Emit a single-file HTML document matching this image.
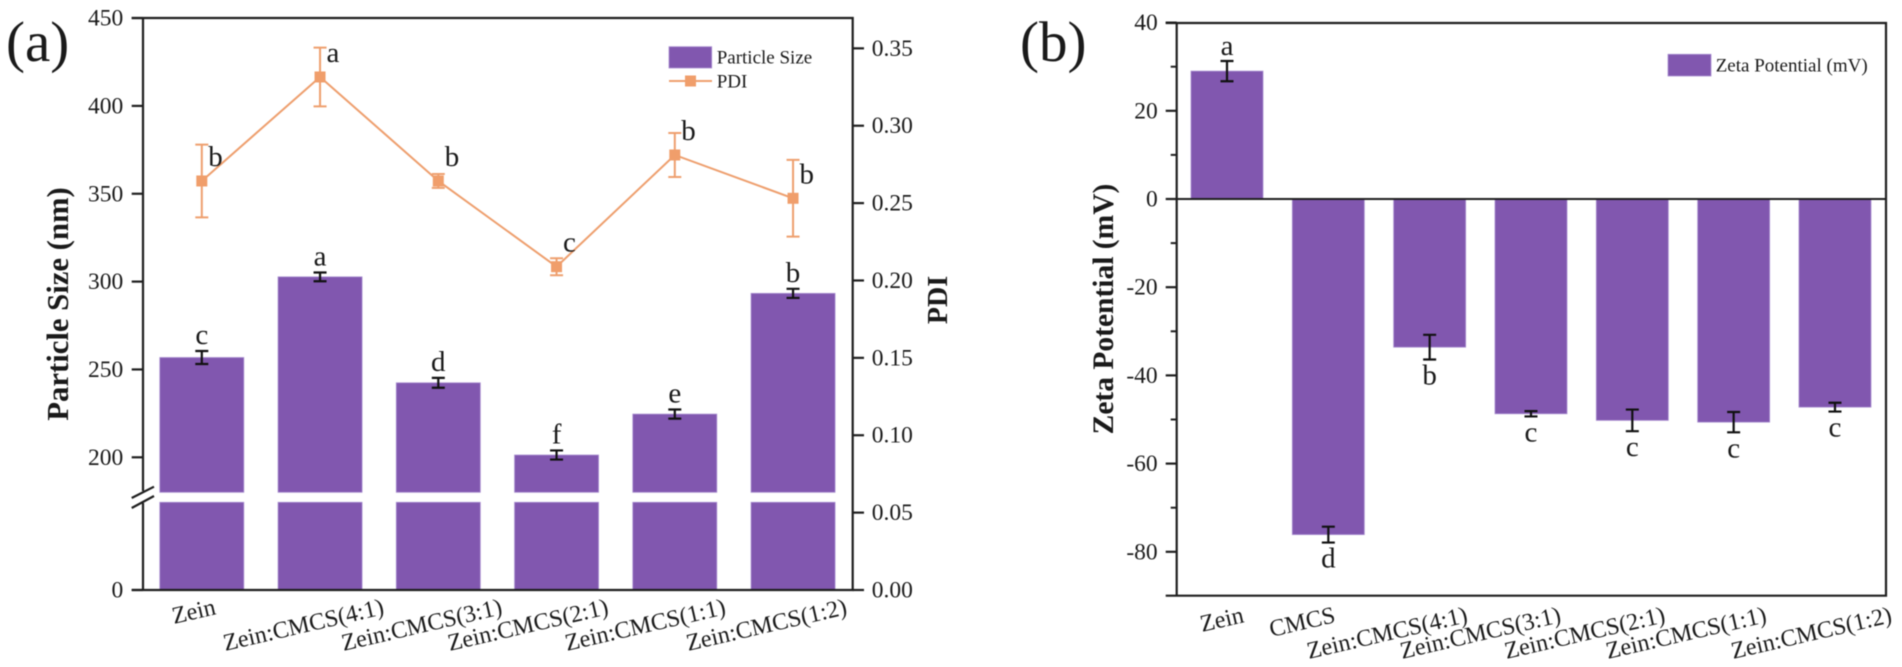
<!DOCTYPE html>
<html lang="en">
<head>
<meta charset="utf-8">
<title>Particle size, PDI and zeta potential</title>
<style>
html,body{margin:0;padding:0;background:#fff;width:1902px;height:667px;overflow:hidden}
svg{display:block;filter:blur(0.4px)}
text{font-family:"Liberation Serif","Times New Roman",serif;fill:#1a1a1a}
</style>
</head>
<body>
<svg id="figure" xmlns="http://www.w3.org/2000/svg" width="1902" height="667" viewBox="0 0 1902 667">
  <rect x="0" y="0" width="1902" height="667" fill="#ffffff"/>
  <text x="6" y="61" font-size="57">(a)</text>
  <text x="1020" y="61" font-size="57">(b)</text>
  <g id="chartA"></g>
  <g id="chartB"></g>
  <text transform="translate(68,304) rotate(-90)" text-anchor="middle" font-size="30.7" font-weight="bold">Particle Size (nm)</text>
  <text transform="translate(947,300) rotate(-90)" text-anchor="middle" font-size="28" font-weight="bold">PDI</text>
  <text transform="translate(1113,309) rotate(-90)" text-anchor="middle" font-size="29.5" font-weight="bold">Zeta Potential (mV)</text>
  <g>
    <rect x="669" y="46.7" width="42.7" height="21.3" fill="#8157AF" stroke="#a98fd0" stroke-width="0.8"/>
    <text x="716.7" y="63.3" font-size="19">Particle Size</text>
    <line x1="669" y1="81" x2="712" y2="81" stroke="#EE9F6E" stroke-width="2"/>
    <rect x="685" y="75.5" width="11" height="11" fill="#F09E6B"/>
    <text x="716.7" y="87.3" font-size="19">PDI</text>
  </g>
  <g>
    <rect x="1668" y="54.3" width="43" height="21.7" fill="#8157AF" stroke="#a98fd0" stroke-width="0.8"/>
    <text x="1715.7" y="71.7" font-size="19">Zeta Potential (mV)</text>
  </g>
</svg>
<script>
// ---- Panel (a) data ----
const categoriesA = ["Zein", "Zein:CMCS(4:1)", "Zein:CMCS(3:1)", "Zein:CMCS(2:1)", "Zein:CMCS(1:1)", "Zein:CMCS(1:2)"];
const particleSize = [256.8, 302.7, 242.4, 201.3, 224.6, 293.3];
const particleSizeErr = [3.7, 2.5, 2.8, 2.6, 2.6, 2.6];
const particleSizeLetters = ["c", "a", "d", "f", "e", "b"];
const pdi = [0.2643, 0.3315, 0.2643, 0.2089, 0.2811, 0.2531];
const pdiErr = [0.0235, 0.019, 0.0045, 0.0055, 0.0142, 0.0248];
const pdiLetters = ["b", "a", "b", "c", "b", "b"];
const leftTicksA = [0, 200, 250, 300, 350, 400, 450];
const rightTicksA = ["0.00", "0.05", "0.10", "0.15", "0.20", "0.25", "0.30", "0.35"];

// ---- Panel (b) data ----
const categoriesB = ["Zein", "CMCS", "Zein:CMCS(4:1)", "Zein:CMCS(3:1)", "Zein:CMCS(2:1)", "Zein:CMCS(1:1)", "Zein:CMCS(1:2)"];
const zeta = [29.0, -76.1, -33.6, -48.7, -50.2, -50.6, -47.2];
const zetaErr = [2.3, 1.8, 2.8, 0.6, 2.45, 2.3, 1.0];
const zetaLetters = ["a", "d", "b", "c", "c", "c", "c"];
const majorTicksB = [40, 20, 0, -20, -40, -60, -80];
const minorTicksB = [30, 10, -10, -30, -50, -70];

// ---- Layout (not data) ----
const labelNudgeA = [15, 65, 65, 53, 52, 55];
const labelNudgeB = [18, 8, 39, 31, 34, 34, 58];
const PURPLE = "#8157AF", EDGE = "#a98fd0", ORANGE = "#EE9F6E", MARK = "#F09E6B", INK = "#1f1f1f";
const NS = "http://www.w3.org/2000/svg";

function make(parent, tag, attrs, txt) {
  const n = document.createElementNS(NS, tag);
  for (const k in attrs) n.setAttribute(k, attrs[k]);
  if (txt !== undefined) n.textContent = txt;
  parent.appendChild(n);
  return n;
}

// ---- Axis functions ----
const A = { left: 143, right: 852.7, top: 18, bottom: 590, breakTop: 492.3, breakBottom: 502.3, step: 118.25, first: 201.8, barW: 84 };
function xA(i) { return A.first + i * A.step; }
function ySize(v) { return v === 0 ? A.bottom : 457.3 - (v - 200) * 1.757; }
function yPdi(v) { return A.bottom - v * 1547.6; }

const B = { left: 1176.7, right: 1886, top: 23, bottom: 595.7, step: 101.33, first: 1227, barW: 72 };
function xB(i) { return B.first + i * B.step; }
function yZeta(v) { return 199 - v * 4.41; }

// ---- Panel (a) ----
const ga = document.getElementById("chartA");
particleSize.forEach(function (v, i) {
  const cx = xA(i), lo = v - particleSizeErr[i], hi = v + particleSizeErr[i];
  const upper = make(ga, "rect", { x: cx - A.barW / 2, y: ySize(v), width: A.barW, height: A.breakTop - ySize(v), fill: PURPLE, stroke: EDGE, "stroke-width": 0.8 });
  
  
  const lower = make(ga, "rect", { x: cx - A.barW / 2, y: A.breakBottom, width: A.barW, height: A.bottom - A.breakBottom, fill: PURPLE, stroke: EDGE, "stroke-width": 0.8 });
  
  
  const err = make(ga, "path", { d: "M" + (cx - 6.5) + " " + ySize(hi) + "H" + (cx + 6.5) + "M" + cx + " " + ySize(hi) + "V" + ySize(lo) + "M" + (cx - 6.5) + " " + ySize(lo) + "H" + (cx + 6.5), stroke: "#111", "stroke-width": 2.2, fill: "none" });
  
  
  const letter = make(ga, "text", { x: cx, y: ySize(hi) - 7, "text-anchor": "middle", "font-size": 29 }, particleSizeLetters[i]);
  
  
  const cat = make(ga, "text", { transform: "translate(" + (cx + labelNudgeA[i]) + ",614) rotate(-13)", "text-anchor": "end", "font-size": 24 }, categoriesA[i]);
  
  
});

const pdiLine = make(ga, "polyline", { points: pdi.map(function (v, i) { return xA(i) + "," + yPdi(v); }).join(" "), fill: "none", stroke: ORANGE, "stroke-width": 2 });


pdi.forEach(function (v, i) {
  const cx = xA(i), t = yPdi(v + pdiErr[i]), b = yPdi(v - pdiErr[i]), py = yPdi(v);
  const err = make(ga, "path", { d: "M" + (cx - 6.5) + " " + t + "H" + (cx + 6.5) + "M" + cx + " " + t + "V" + b + "M" + (cx - 6.5) + " " + b + "H" + (cx + 6.5), stroke: ORANGE, "stroke-width": 2, fill: "none" });
  
  
  const pt = make(ga, "rect", { x: cx - 5.5, y: py - 5.5, width: 11, height: 11, fill: MARK });
  
  
  const letter = make(ga, "text", { x: cx + 6.5, y: py - 15, "font-size": 29 }, pdiLetters[i]);
  
  
});

const frameA = make(ga, "path", { d: "M" + (A.left - 11.3) + " " + A.top + "H" + A.right + "V" + A.bottom + "H" + (A.left - 11.3), fill: "none", stroke: INK, "stroke-width": 2.2 });


const leftUpper = make(ga, "line", { x1: A.left, y1: A.top, x2: A.left, y2: 491, stroke: INK, "stroke-width": 2.2 });


const leftLower = make(ga, "line", { x1: A.left, y1: 503, x2: A.left, y2: A.bottom, stroke: INK, "stroke-width": 2.2 });


const breakMark = make(ga, "path", { d: "M131.7 498L154 486.7M131.7 508L154 496", stroke: INK, "stroke-width": 2.2, fill: "none" });



leftTicksA.forEach(function (v) {
  const y = ySize(v);
  const tick = make(ga, "line", { x1: A.left - 11.3, y1: y, x2: A.left, y2: y, stroke: INK, "stroke-width": 2.2 });
  
  
  const lab = make(ga, "text", { x: 123.3, y: y + 7.5, "text-anchor": "end", "font-size": 23.5 }, String(v));
  
  
});
rightTicksA.forEach(function (s) {
  const y = yPdi(parseFloat(s));
  const tick = make(ga, "line", { x1: A.right, y1: y, x2: A.right + 11.3, y2: y, stroke: INK, "stroke-width": 2.2 });
  
  
  const lab = make(ga, "text", { x: 871.7, y: y + 7.5, "font-size": 23.5 }, s);
  
  
});

// ---- Panel (b) ----
const gb = document.getElementById("chartB");
zeta.forEach(function (v, i) {
  const cx = xB(i), y0 = yZeta(0), yv = yZeta(v), hi = yZeta(v + zetaErr[i]), lo = yZeta(v - zetaErr[i]);
  const bar = make(gb, "rect", { x: cx - B.barW / 2, y: Math.min(y0, yv), width: B.barW, height: Math.abs(yv - y0), fill: PURPLE, stroke: EDGE, "stroke-width": 0.8 });
  
  
  const err = make(gb, "path", { d: "M" + (cx - 6.5) + " " + hi + "H" + (cx + 6.5) + "M" + cx + " " + hi + "V" + lo + "M" + (cx - 6.5) + " " + lo + "H" + (cx + 6.5), stroke: "#111", "stroke-width": 2.2, fill: "none" });
  
  
  const ly = v >= 0 ? hi - 6 : lo + 25;
  const letter = make(gb, "text", { x: cx, y: ly, "text-anchor": "middle", "font-size": 29 }, zetaLetters[i]);
  
  
  const cat = make(gb, "text", { transform: "translate(" + (cx + labelNudgeB[i]) + ",622) rotate(-13)", "text-anchor": "end", "font-size": 24 }, categoriesB[i]);
  
  
});

const frameB = make(gb, "path", { d: "M" + (B.left - 11) + " " + B.top + "H" + B.right + "V" + B.bottom + "H" + (B.left - 11), fill: "none", stroke: INK, "stroke-width": 2.2 });


const leftB = make(gb, "line", { x1: B.left, y1: B.top, x2: B.left, y2: B.bottom, stroke: INK, "stroke-width": 2.2 });


const zeroLine = make(gb, "line", { x1: B.left, y1: yZeta(0), x2: B.right, y2: yZeta(0), stroke: INK, "stroke-width": 2 });



majorTicksB.forEach(function (v) {
  const y = yZeta(v);
  const tick = make(gb, "line", { x1: B.left - 11, y1: y, x2: B.left, y2: y, stroke: INK, "stroke-width": 2.2 });
  
  
  const lab = make(gb, "text", { x: 1157.7, y: y + 7.5, "text-anchor": "end", "font-size": 23.5 }, String(v));
  
  
});
minorTicksB.forEach(function (v) {
  const y = yZeta(v);
  const tick = make(gb, "line", { x1: B.left - 6, y1: y, x2: B.left, y2: y, stroke: INK, "stroke-width": 2 });
  
  
});
</script>
</body>
</html>
